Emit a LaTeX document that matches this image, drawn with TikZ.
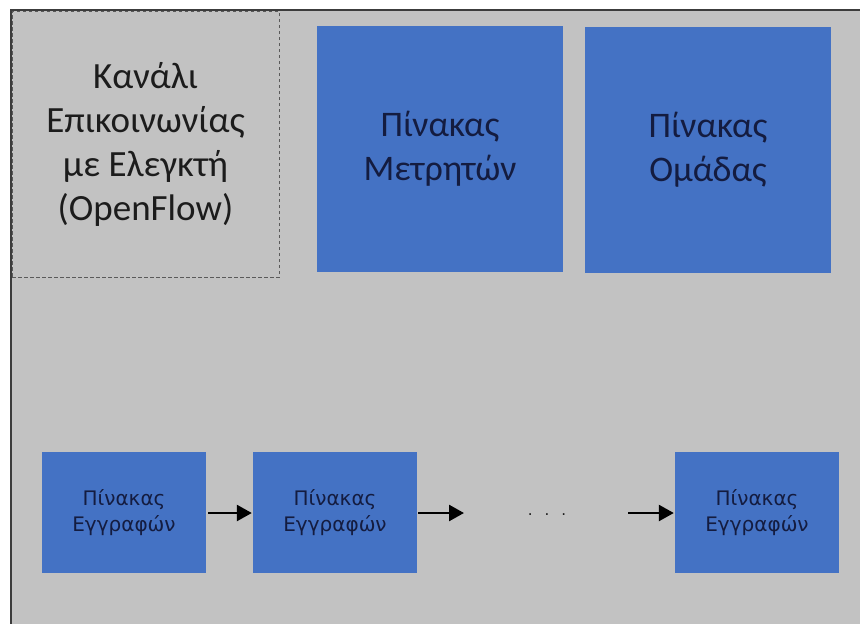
\documentclass[tikz,border=0pt]{standalone}
\usepackage{fontspec}
\setmainfont{Carlito}
\newfontfamily\smallsans{DejaVu Sans}
\usetikzlibrary{arrows.meta}
\definecolor{panelgray}{HTML}{C2C2C2}
\definecolor{framegray}{HTML}{3C3C3C}
\definecolor{dashgray}{HTML}{5A5A5A}
\definecolor{tableblue}{HTML}{4472C4}
\definecolor{navytext}{HTML}{141C40}
\definecolor{darktext}{HTML}{1C1C1C}
\tikzset{
  bigtable/.style={fill=tableblue, draw=none, minimum width=246pt, minimum height=246pt,
    inner sep=0pt, align=center, text=navytext,
    font=\fontsize{36}{44}\selectfont},
  flowtable/.style={fill=tableblue, draw=none, minimum width=164pt, minimum height=121pt,
    inner sep=0pt, align=center, text=navytext,
    font=\smallsans\fontsize{20}{25}\selectfont},
  channelbox/.style={draw=dashgray, dash pattern=on 3.5pt off 2.5pt, line width=1pt,
    minimum width=267pt, minimum height=266pt, inner sep=0pt, align=center,
    text=darktext, font=\fontsize{37}{44}\selectfont},
  link/.style={line width=2.6pt, -{Triangle[length=15pt,width=16pt]}},
}
\begin{document}
\begin{tikzpicture}[x=1pt,y=-1pt]
  \useasboundingbox (0,0) rectangle (860,624);
  % switch panel
  \fill[panelgray] (11,10) rectangle (860,624);
  \draw[framegray, line width=2.6pt] (11,624) -- (11,10) -- (860,10);

  % controller channel
  \node[channelbox] (chan) at (145.5,144) {Κανάλι\\Επικοινωνίας\\με Ελεγκτή\\(OpenFlow)};

  % counter and group tables
  \node[bigtable] (meters) at (440,149) {Πίνακας\\Μετρητών};
  \node[bigtable] (groups) at (708,149.5) {Πίνακας\\Ομάδας};

  % pipeline of flow tables
  \node[flowtable] (ft1) at (124,512.5) {\raisebox{-3pt}{\shortstack{Πίνακας\\[3pt]Εγγραφών}}};
  \node[flowtable] (ft2) at (335,512.5) {\raisebox{-3pt}{\shortstack{Πίνακας\\[3pt]Εγγραφών}}};
  \node[flowtable] (ftn) at (757,512.5) {\raisebox{-3pt}{\shortstack{Πίνακας\\[3pt]Εγγραφών}}};
  \node[font=\smallsans\fontsize{15}{16}\selectfont, text=darktext] (dots) at (547,515)
    {.\hspace{12pt}.\hspace{12pt}.};

  \coordinate (out2) at (464,513);
  \coordinate (inn) at (628,513);
  \draw[link] ([xshift=2pt]ft1.east |- 0,513) -- ([xshift=-1pt]ft2.west |- 0,513);
  \draw[link] ([xshift=1pt]ft2.east |- 0,513) -- (out2);
  \draw[link] (inn) -- ([xshift=-1pt]ftn.west |- 0,513);
\end{tikzpicture}
\end{document}
